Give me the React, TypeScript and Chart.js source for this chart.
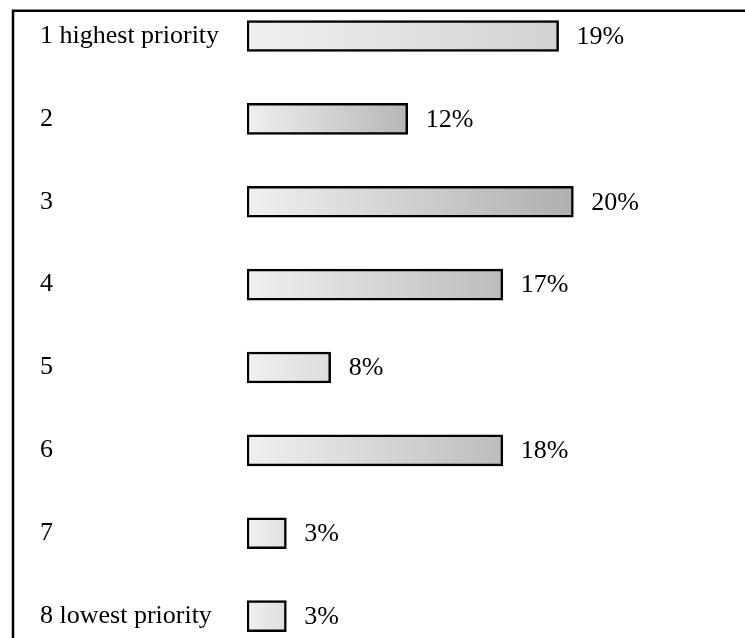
import React, { useEffect, useRef } from "react";
import { Chart, registerables } from "chart.js";

Chart.register(...registerables);

// ---- data ----
const categories = [
  "1 highest priority",
  "2",
  "3",
  "4",
  "5",
  "6",
  "7",
  "8 lowest priority",
];
const values = [19.0, 9.8, 19.9, 15.6, 5.1, 15.6, 2.4, 2.4];
const valueLabels = ["19%", "12%", "20%", "17%", "8%", "18%", "3%", "3%"];

// ---- styles ----
const gradientStart = "#f0f0f0";
const gradientEnds = [
  "#d2d2d2",
  "#b6b6b6",
  "#afafaf",
  "#bcbcbc",
  "#dcdcdc",
  "#bdbdbd",
  "#e0e0e0",
  "#dedede",
];
const FONT = "'Liberation Serif', 'Times New Roman', serif";
const FONT_SIZE = 26;
const CANVAS_W = 745;
const CANVAS_H = 704;
const SHIFT = 30;

const valueLabelPlugin = {
  id: "valueLabels",
  afterDatasetsDraw(chart: any) {
    const ctx = chart.ctx;
    const meta = chart.getDatasetMeta(0);
    ctx.save();
    ctx.font = `${FONT_SIZE}px ${FONT}`;
    ctx.fillStyle = "#000";
    ctx.textAlign = "left";
    ctx.textBaseline = "middle";
    meta.data.forEach((el: any, i: number) => {
      ctx.fillText(valueLabels[i], el.x + 18, el.y + 1);
    });
    ctx.restore();
  },
};

const framePlugin = {
  id: "frame",
  afterDraw(chart: any) {
    const ctx = chart.ctx;
    ctx.save();
    ctx.strokeStyle = "#000";
    ctx.lineWidth = 2.5;
    ctx.beginPath();
    ctx.moveTo(13, chart.height + 5);
    ctx.lineTo(13, 10.7 + SHIFT);
    ctx.lineTo(chart.width + 5, 10.7 + SHIFT);
    ctx.stroke();
    ctx.restore();
  },
};

export default function App() {
  const ref = useRef<HTMLCanvasElement | null>(null);

  useEffect(() => {
    document.body.style.overflow = "hidden";
    const canvas = ref.current;
    if (!canvas) return;
    const chart = new Chart(canvas, {
      type: "bar",
      data: {
        labels: categories,
        datasets: [
          {
            data: values,
            barThickness: 31,
            borderWidth: 2.5,
            borderColor: "#000",
            borderSkipped: false,
            backgroundColor: (c: any) => {
              const ch = c.chart;
              const xs = ch.scales && ch.scales.x;
              if (!xs || c.dataIndex === undefined) return gradientStart;
              const x0 = xs.getPixelForValue(0);
              const x1 = xs.getPixelForValue(values[c.dataIndex]);
              if (!isFinite(x0) || !isFinite(x1) || x1 <= x0) return gradientStart;
              const g = ch.ctx.createLinearGradient(x0, 0, x1, 0);
              g.addColorStop(0, gradientStart);
              g.addColorStop(1, gradientEnds[c.dataIndex]);
              return g;
            },
          },
        ],
      },
      options: {
        indexAxis: "y",
        responsive: false,
        animation: false,
        layout: {
          padding: { left: 40, right: 6, top: 24.6, bottom: 16.5 },
        },
        plugins: {
          legend: { display: false },
          tooltip: { enabled: false },
        },
        scales: {
          x: {
            display: false,
            min: 0,
            max: 30,
          },
          y: {
            position: "left",
            grid: { display: false },
            border: { display: false },
            ticks: {
              autoSkip: false,
              crossAlign: "far",
              padding: 0,
              color: "#000",
              font: { family: FONT, size: FONT_SIZE },
            },
            afterFit: (s: any) => {
              s.width = 207;
            },
          },
        },
      },
      plugins: [valueLabelPlugin, framePlugin],
    } as any);
    return () => chart.destroy();
  }, []);

  return (
    <div
      style={{
        position: "fixed",
        left: 0,
        top: 0,
        width: CANVAS_W,
        height: 638,
        overflow: "hidden",
        background: "#fff",
      }}
    >
      <canvas
        ref={ref}
        width={CANVAS_W}
        height={CANVAS_H}
        style={{ position: "absolute", left: 0, top: -SHIFT, width: CANVAS_W, height: CANVAS_H }}
      />
    </div>
  );
}
